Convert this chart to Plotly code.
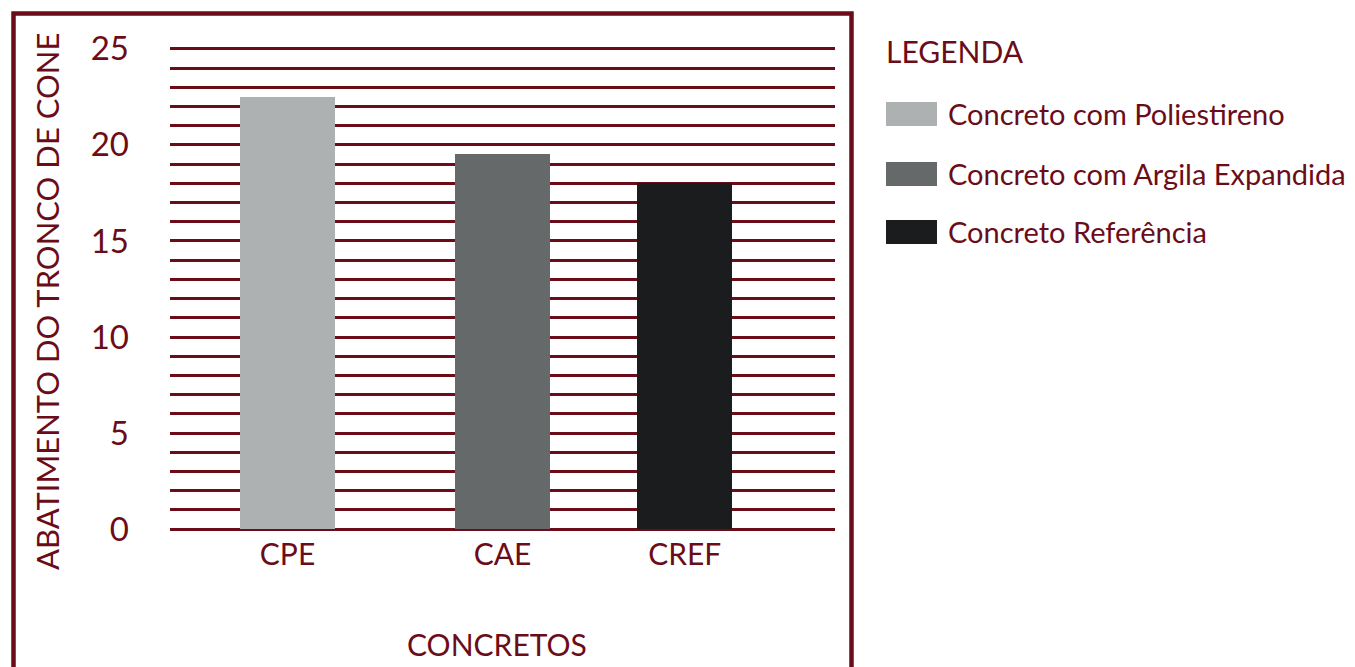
import plotly.graph_objects as go

# Slump test results (cm) per concrete mix
categories = ["CPE", "CAE", "CREF"]
slump_values = [22.5, 19.5, 18.0]
series_names = [
    "Concreto com Poliestireno",
    "Concreto com Argila Expandida",
    "Concreto Referência",
]
y_ticks = [0, 5, 10, 15, 20, 25]

# Styling / layout
bar_colors = ["#aeb1b2", "#666969", "#1a1c1e"]
bar_x = [0.1767, 0.5, 0.774]
bar_width = 1 / 7
RED = "#6b0d18"
FONT = "Lato"

W, H = 1355, 667
ML, MR, MT, MB = 170, 520, 44, 133
PW, PH = W - ML - MR, H - MT - MB


def px_x(p):
    return (p - ML) / PW


def px_y(p):
    return (H - MB - p) / PH


fig = go.Figure()
fig.add_trace(
    go.Bar(
        x=bar_x,
        y=slump_values,
        width=bar_width,
        marker=dict(color=bar_colors, line=dict(width=0)),
        showlegend=False,
        hoverinfo="x+y",
    )
)

shapes = [
    # outer frame
    dict(
        type="rect", xref="paper", yref="paper",
        x0=px_x(13.5), x1=px_x(851.5), y0=px_y(13.5), y1=px_y(700),
        line=dict(color=RED, width=4.5), layer="below",
    )
]
annotations = [
    dict(
        text="ABATIMENTO DO TRONCO DE CONE", xref="paper", yref="paper",
        x=px_x(47), y=px_y(302), textangle=-90, showarrow=False,
        font=dict(family=FONT, size=31, color=RED),
        xanchor="center", yanchor="middle",
    ),
    dict(
        text="CONCRETOS", xref="paper", yref="paper",
        x=px_x(497), y=px_y(644), showarrow=False,
        font=dict(family=FONT, size=30, color=RED),
        xanchor="center", yanchor="middle",
    ),
    dict(
        text="LEGENDA", xref="paper", yref="paper",
        x=px_x(884), y=px_y(51), showarrow=False,
        font=dict(family=FONT, size=30, color=RED),
        xanchor="left", yanchor="middle",
    ),
]

# custom legend: large swatches with labels
legend_rows = [114, 174, 232]
for name, color, cy in zip(series_names, bar_colors, legend_rows):
    shapes.append(
        dict(
            type="rect", xref="paper", yref="paper",
            x0=px_x(886), x1=px_x(937), y0=px_y(cy - 12), y1=px_y(cy + 12),
            fillcolor=color, line=dict(width=0),
        )
    )
    annotations.append(
        dict(
            text=name, xref="paper", yref="paper",
            x=px_x(946), y=px_y(cy - 1), showarrow=False,
            font=dict(family=FONT, size=29, color=RED),
            xanchor="left", yanchor="middle",
        )
    )

fig.update_layout(
    width=W,
    height=H,
    margin=dict(l=ML, r=MR, t=MT, b=MB, autoexpand=False),
    paper_bgcolor="white",
    plot_bgcolor="white",
    font=dict(family=FONT, color=RED),
    shapes=shapes,
    annotations=annotations,
    xaxis=dict(
        range=[0, 1],
        tickvals=bar_x,
        ticktext=categories,
        showgrid=False,
        zeroline=False,
        showline=False,
        ticks="",
        tickfont=dict(family=FONT, size=30, color=RED),
        ticklabelstandoff=0,
        fixedrange=True,
    ),
    yaxis=dict(
        range=[-0.25, 25.25],
        tickvals=y_ticks,
        dtick=1,
        showgrid=True,
        gridcolor=RED,
        gridwidth=2.5,
        minor=dict(dtick=1, showgrid=True, gridcolor=RED, gridwidth=2.5),
        zeroline=False,
        showline=False,
        ticks="",
        tickfont=dict(family=FONT, size=33, color=RED),
        ticklabelstandoff=40,
        fixedrange=True,
    ),
    bargap=0,
)

fig.write_html("out.html")
